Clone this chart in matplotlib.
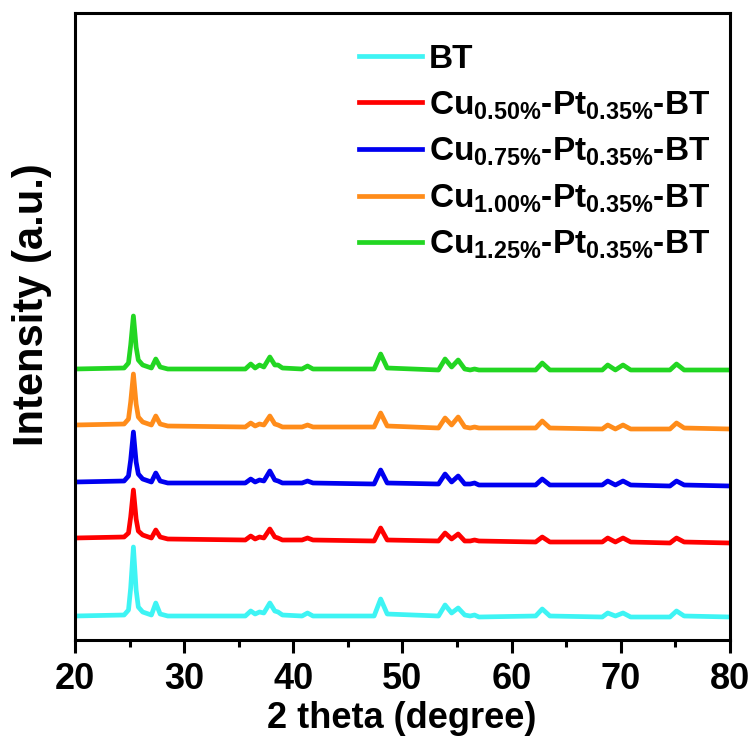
import matplotlib
matplotlib.use("Agg")
import matplotlib.pyplot as plt
from matplotlib.ticker import MultipleLocator

# ---------------- data ----------------
two_theta = [20, 24.5, 24.9, 25.1, 25.35, 25.6, 25.8, 26.2, 27.0, 27.4, 27.8, 28.5,
             35.6, 36.1, 36.5, 36.9, 37.3, 37.85, 38.3, 38.6, 39.0, 40.8, 41.3, 41.8,
             47.4, 48.0, 48.6, 53.3, 53.9, 54.5, 55.1, 55.7, 56.2, 56.6, 57.0,
             62.2, 62.8, 63.5, 68.3, 68.8, 69.5, 70.2, 70.9, 74.5, 75.1, 75.8, 80]

bt = [24, 25, 30, 52, 93, 50, 33, 28, 25, 37, 26, 24,
      24, 29, 26, 28, 27, 37, 29, 28, 25, 24, 27, 24,
      24, 41, 26, 24, 35, 27, 32, 25, 24, 25, 23,
      24, 31, 24, 23, 27, 24, 27, 23, 23, 29, 24, 23]

cu050 = [102, 103, 107, 123, 150, 121, 109, 105, 102, 110, 103, 101,
         100, 104, 101, 103, 102, 111, 103, 102, 100, 100, 102, 100,
         99, 112, 100, 99, 107, 101, 106, 99, 99, 100, 99,
         98, 103, 98, 98, 102, 98, 102, 98, 97, 102, 98, 97]

cu075 = [158, 159, 164, 180, 208, 178, 166, 161, 158, 167, 159, 157,
         157, 161, 158, 160, 159, 169, 160, 159, 157, 157, 159, 157,
         156, 170, 157, 156, 166, 158, 164, 156, 156, 157, 155,
         155, 161, 155, 155, 159, 155, 159, 155, 154, 159, 155, 154]

cu100 = [215, 216, 221, 238, 266, 236, 223, 218, 215, 224, 216, 214,
         213, 217, 214, 216, 215, 224, 216, 215, 213, 213, 215, 213,
         213, 227, 214, 212, 222, 215, 223, 213, 212, 213, 212,
         212, 219, 212, 211, 215, 211, 215, 211, 211, 217, 212, 211]

cu125 = [271, 272, 277, 295, 324, 293, 280, 275, 272, 281, 273, 271,
         271, 276, 272, 275, 273, 283, 275, 275, 272, 271, 274, 271,
         271, 286, 272, 270, 281, 273, 280, 271, 270, 271, 270,
         270, 277, 270, 270, 275, 270, 275, 270, 270, 276, 270, 270]

labels = ["BT",
          r"Cu$_{0.50\%}$-Pt$_{0.35\%}$-BT",
          r"Cu$_{0.75\%}$-Pt$_{0.35\%}$-BT",
          r"Cu$_{1.00\%}$-Pt$_{0.35\%}$-BT",
          r"Cu$_{1.25\%}$-Pt$_{0.35\%}$-BT"]
series = [bt, cu050, cu075, cu100, cu125]
colors = ["#3EF4F4", "#FF0000", "#0000F0", "#FF8C1A", "#22D622"]

xticks = [20, 30, 40, 50, 60, 70, 80]

# ---------------- style ----------------
fam = ["Liberation Sans", "DejaVu Sans"]
plt.rcParams["font.family"] = fam
plt.rcParams["font.weight"] = "bold"
plt.rcParams["mathtext.fontset"] = "custom"
plt.rcParams["mathtext.rm"] = "Liberation Sans:bold"
plt.rcParams["mathtext.bf"] = "Liberation Sans:bold"
plt.rcParams["mathtext.it"] = "Liberation Sans:bold"
plt.rcParams["mathtext.default"] = "rm"

W, H = 751, 749
fig = plt.figure(figsize=(W / 100, H / 100), dpi=100)
ax = fig.add_axes([75 / W, (H - 640) / H, 655 / W, 627 / H])

for y, c, lab in zip(series, colors, labels):
    ax.plot(two_theta, y, color=c, lw=3.4, label=lab, solid_joinstyle="round")

ax.set_xlim(20, 80)
ax.set_ylim(0, 627)
ax.set_yticks([])
ax.set_xticks(xticks)
ax.xaxis.set_minor_locator(MultipleLocator(5))
ax.tick_params(axis="x", which="major", direction="out", length=9, width=2.2,
               labelsize=26, pad=7)
ax.tick_params(axis="x", which="minor", direction="out", length=5, width=2.2)
for lbl in ax.get_xticklabels():
    lbl.set_fontweight("bold")
for s in ax.spines.values():
    s.set_linewidth(2.2)

fig.text(402 / W, 1 - 719 / H, "2 theta (degree)", ha="center", va="center",
         fontsize=26, fontweight="bold")
fig.text(32 / W, 1 - 305 / H, "Intensity (a.u.)", ha="center", va="center",
         rotation=90, fontsize=30, fontweight="bold")

leg = ax.legend(loc="upper left", bbox_to_anchor=((357 - 75) / 655 + 0.003, (640 - 44) / 627),
                frameon=False, fontsize=24, handlelength=1.89, handletextpad=0.2,
                labelspacing=0.425, borderaxespad=0, borderpad=0)
for h in leg.get_lines():
    h.set_linewidth(3.4)

fig.savefig("out.png", dpi=100)
